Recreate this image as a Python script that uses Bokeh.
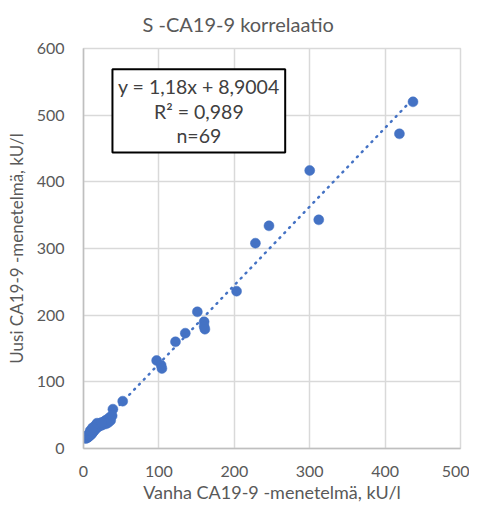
from bokeh.plotting import figure
from bokeh.models import BoxAnnotation, Label, ColumnDataSource, FixedTicker, Title
from bokeh.embed import file_html
from bokeh.resources import INLINE

# --- data ---
title_text = "S -CA19-9 korrelaatio"
x_label = "Vanha CA19-9 -menetelmä, kU/l"
y_label = "Uusi CA19-9 -menetelmä, kU/l"
eq_lines = ["y = 1,18x + 8,9004", "R² = 0,989", "n=69"]
slope = 1.18
intercept = 8.9004

old_method = [437, 419, 300, 312, 246, 228, 203, 151, 160, 160, 161, 135, 122, 97, 103, 104, 52, 39,
              3, 4, 5, 5, 6, 6, 7, 7, 8, 8, 9, 9, 10, 10, 11, 11, 12, 12, 13, 13, 14, 14,
              15, 15, 16, 17, 17, 18, 19, 20, 20, 21, 22, 23, 24, 25, 26, 27, 28, 29,
              30, 31, 32, 33, 35, 36, 38, 9, 12, 18, 24]
new_method = [520, 472, 417, 343, 334, 308, 236, 205, 190, 183, 179, 173, 160, 132, 125, 120, 71, 59,
              15, 17, 16, 19, 17, 20, 18, 21, 19, 23, 20, 24, 21, 25, 22, 26, 24, 28, 25, 29, 27, 31,
              28, 33, 34, 30, 36, 32, 35, 33, 37, 36, 34, 37, 35, 38, 36, 40, 38, 42,
              37, 40, 44, 39, 47, 42, 49, 27, 31, 38, 39]

x_ticks = [0, 100, 200, 300, 400, 500]
y_ticks = [0, 100, 200, 300, 400, 500, 600]

FONT = "Lato"
BLUE = "#4472C4"
GRAY_TXT = "#595959"
GRID = "#d9d9d9"

p = figure(width=469, height=505, output_backend="svg", toolbar_location=None,
           x_range=(0, 500), y_range=(0, 600),
           min_border_left=83, min_border_right=9, min_border_top=48, min_border_bottom=57)
p.background_fill_color = "white"
p.border_fill_color = "white"
p.outline_line_color = GRID
p.outline_line_width = 1.5

for ax in (p.xaxis[0], p.yaxis[0]):
    ax.major_tick_line_color = None
    ax.minor_tick_line_color = None
    ax.axis_line_color = "#bfbfbf"
    ax.axis_line_width = 1.5
    ax.major_label_text_font = FONT
    ax.major_label_text_font_size = "16px"
    ax.major_label_text_color = GRAY_TXT
    ax.axis_label_text_font = FONT
    ax.axis_label_text_font_style = "normal"
    ax.axis_label_text_color = GRAY_TXT

p.xaxis.ticker = FixedTicker(ticks=x_ticks)
p.yaxis.ticker = FixedTicker(ticks=y_ticks)
p.xaxis.axis_label = x_label
p.yaxis.axis_label = y_label
p.xaxis.axis_label_text_font_size = "18px"
p.yaxis.axis_label_text_font_size = "17px"
p.xaxis.major_label_standoff = 11
p.yaxis.major_label_standoff = 13
p.xaxis.axis_label_standoff = 1
p.yaxis.axis_label_standoff = 7

p.xgrid.ticker = FixedTicker(ticks=x_ticks)
p.ygrid.ticker = FixedTicker(ticks=y_ticks)
p.grid.grid_line_color = GRID
p.grid.grid_line_width = 1.5

# spacer between frame and title, then the title
p.add_layout(Title(text=" ", text_font_size="6px", standoff=0), "above")
p.add_layout(Title(text=title_text, align="left", offset=59,
                   text_font=FONT, text_font_size="20px", text_font_style="normal",
                   text_color=GRAY_TXT), "above")

# trendline
x0, x1 = min(old_method), max(old_method)
p.line([x0, x1], [slope * x0 + intercept, slope * x1 + intercept],
       line_color=BLUE, line_width=2.5, line_dash="1 6", line_cap="round")

src = ColumnDataSource(dict(x=old_method, y=new_method))
p.scatter("x", "y", source=src, size=10, fill_color=BLUE, line_color=BLUE, line_width=0.5)

# equation box
p.add_layout(BoxAnnotation(left=38.4, right=267.5, bottom=444, top=569,
                           fill_color="white", fill_alpha=1.0,
                           line_color="black", line_width=2, line_alpha=1.0))
for txt, yy in zip(eq_lines, [542.5, 506, 469]):
    p.add_layout(Label(x=153, y=yy, text=txt, text_align="center", text_baseline="middle",
                       text_font=FONT, text_font_size="19.5px", text_color="#404040"))

open("out.html", "w").write(file_html(p, INLINE))
